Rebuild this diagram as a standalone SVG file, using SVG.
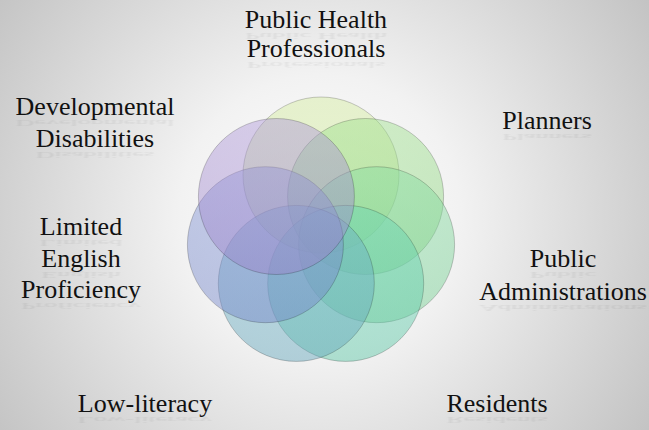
<svg xmlns="http://www.w3.org/2000/svg" width="649" height="430" viewBox="0 0 649 430">
  <defs>
    <radialGradient id="bg" cx="320" cy="215" r="400" gradientUnits="userSpaceOnUse">
      <stop offset="0" stop-color="#ffffff"/>
      <stop offset="0.35" stop-color="#f2f2f2"/>
      <stop offset="1" stop-color="#c2c2c2"/>
    </radialGradient>
    <!-- one soft top-lit gradient per ring colour -->
    <linearGradient id="g0" x1="0" y1="0" x2="0" y2="1">
      <stop offset="0" stop-color="#d4ec9e"/>
      <stop offset="1" stop-color="#c2e08e"/>
    </linearGradient>
    <linearGradient id="g1" x1="0" y1="0" x2="0" y2="1">
      <stop offset="0" stop-color="#9ee08c"/>
      <stop offset="1" stop-color="#86d07a"/>
    </linearGradient>
    <linearGradient id="g2" x1="0" y1="0" x2="0" y2="1">
      <stop offset="0" stop-color="#86dca0"/>
      <stop offset="1" stop-color="#70cc8e"/>
    </linearGradient>
    <linearGradient id="g3" x1="0" y1="0" x2="0" y2="1">
      <stop offset="0" stop-color="#6ad6b4"/>
      <stop offset="1" stop-color="#58c6a4"/>
    </linearGradient>
    <linearGradient id="g4" x1="0" y1="0" x2="0" y2="1">
      <stop offset="0" stop-color="#70b4c8"/>
      <stop offset="1" stop-color="#60a4ba"/>
    </linearGradient>
    <linearGradient id="g5" x1="0" y1="0" x2="0" y2="1">
      <stop offset="0" stop-color="#8496d6"/>
      <stop offset="1" stop-color="#7284c8"/>
    </linearGradient>
    <linearGradient id="g6" x1="0" y1="0" x2="0" y2="1">
      <stop offset="0" stop-color="#ae98d8"/>
      <stop offset="1" stop-color="#9a80c8"/>
    </linearGradient>
    <filter id="soft" x="-10%" y="-50%" width="120%" height="200%">
      <feGaussianBlur stdDeviation="1"/>
    </filter>
  </defs>
  <style>
    .ring { fill-opacity: 0.45; stroke: #000; stroke-opacity: 0.2; stroke-width: 1; }
    .lbl { fill: #111; text-anchor: middle; }
    .refl { fill: #111; text-anchor: middle; opacity: 0.07; filter: url(#soft); }
  </style>

  <rect width="649" height="430" fill="url(#bg)"/>

  <!-- radial ring of seven overlapping circles, clockwise from the top -->
  <g id="ring">
    <g id="c-public-health"><circle class="ring" cx="321" cy="175" r="78" fill="url(#g0)"/></g>
    <g id="c-planners"><circle class="ring" cx="365.6" cy="196.5" r="78" fill="url(#g1)"/></g>
    <g id="c-public-admin"><circle class="ring" cx="376.6" cy="244.7" r="78" fill="url(#g2)"/></g>
    <g id="c-residents"><circle class="ring" cx="345.7" cy="283.4" r="78" fill="url(#g3)"/></g>
    <g id="c-low-literacy"><circle class="ring" cx="296.3" cy="283.4" r="78" fill="url(#g4)"/></g>
    <g id="c-lep"><circle class="ring" cx="265.4" cy="244.7" r="78" fill="url(#g5)"/></g>
    <g id="c-dev-dis"><circle class="ring" cx="276.4" cy="196.5" r="78" fill="url(#g6)"/></g>
  </g>

  <!-- labels, each with a faint mirrored reflection under the line -->
  <g id="labels" font-family="Liberation Serif, Times New Roman, DejaVu Serif, serif" font-size="26">
    <g id="label-public-health">
      <text class="lbl" x="316" y="28">Public Health</text>
      <text class="refl" transform="translate(0,33) scale(1,-0.3)" x="316" y="0">Public Health</text>
      <text class="lbl" x="316" y="57">Professionals</text>
      <text class="refl" transform="translate(0,62) scale(1,-0.3)" x="316" y="0">Professionals</text>
    </g>
    <g id="label-planners">
      <text class="lbl" x="547" y="129">Planners</text>
      <text class="refl" transform="translate(0,134) scale(1,-0.3)" x="547" y="0">Planners</text>
    </g>
    <g id="label-public-admin">
      <text class="lbl" x="563" y="267">Public</text>
      <text class="refl" transform="translate(0,272) scale(1,-0.3)" x="563" y="0">Public</text>
      <text class="lbl" x="563" y="300">Administrations</text>
      <text class="refl" transform="translate(0,305) scale(1,-0.3)" x="563" y="0">Administrations</text>
    </g>
    <g id="label-residents">
      <text class="lbl" x="497" y="412">Residents</text>
      <text class="refl" transform="translate(0,417) scale(1,-0.3)" x="497" y="0">Residents</text>
    </g>
    <g id="label-low-literacy">
      <text class="lbl" x="145" y="412">Low-literacy</text>
      <text class="refl" transform="translate(0,417) scale(1,-0.3)" x="145" y="0">Low-literacy</text>
    </g>
    <g id="label-lep">
      <text class="lbl" x="81" y="235">Limited</text>
      <text class="refl" transform="translate(0,240) scale(1,-0.3)" x="81" y="0">Limited</text>
      <text class="lbl" x="81" y="267">English</text>
      <text class="refl" transform="translate(0,272) scale(1,-0.3)" x="81" y="0">English</text>
      <text class="lbl" x="81" y="298">Proficiency</text>
      <text class="refl" transform="translate(0,303) scale(1,-0.3)" x="81" y="0">Proficiency</text>
    </g>
    <g id="label-dev-dis">
      <text class="lbl" x="95" y="115">Developmental</text>
      <text class="refl" transform="translate(0,120) scale(1,-0.3)" x="95" y="0">Developmental</text>
      <text class="lbl" x="95" y="147">Disabilities</text>
      <text class="refl" transform="translate(0,152) scale(1,-0.3)" x="95" y="0">Disabilities</text>
    </g>
  </g>
</svg>
